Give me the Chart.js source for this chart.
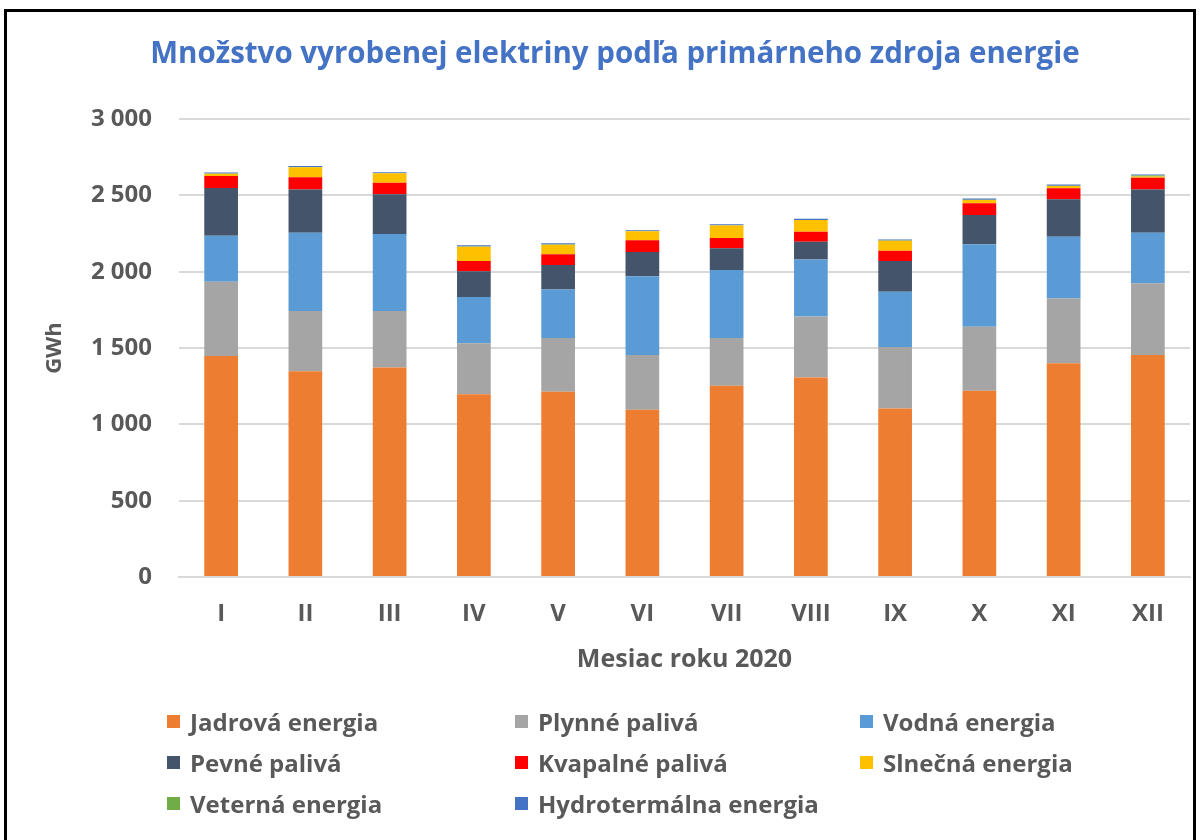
<html lang="sk">
<head>
<meta charset="UTF-8">
<title>Množstvo vyrobenej elektriny</title>
<script src="https://cdn.jsdelivr.net/npm/chart.js"></script>
<style>
    body {
        margin: 0;
        background: #fff;
        font-family: 'Open Sans', sans-serif;
    }
    .wrap {
        position: relative;
        width: 1202px;
        height: 840px;
    }
    .frame {
        position: absolute;
        left: 4px;
        top: 9px;
        width: 1192px;
        height: 840px;
        border: 3px solid #000;
        border-bottom: none;
        box-sizing: border-box;
        pointer-events: none;
    }
    .legend {
        position: absolute;
        left: 167px;
        top: 701px;
        display: grid;
        grid-template-columns: 348px 345px 300px;
        grid-auto-rows: 41px;
        color: #595959;
        font-size: 24px;
        font-weight: bold;
    }
    .legend div {
        display: flex;
        align-items: center;
    }
    .legend span.box {
        width: 13px;
        height: 13px;
        margin-right: 10px;
        flex: none;
    }
</style>
</head>
<body>
<div class="wrap">
    <canvas id="chart" width="1202" height="840"></canvas>
    <div class="frame"></div>
    <div class="legend" id="legend"></div>
</div>
<script>
const months = ['I', 'II', 'III', 'IV', 'V', 'VI', 'VII', 'VIII', 'IX', 'X', 'XI', 'XII'];

// GWh per month
const jadrova   = [1447, 1347, 1373, 1197, 1214, 1096, 1253, 1306, 1103, 1220, 1400, 1454];
const plynne    = [487, 395, 369, 334, 351, 358, 312, 401, 404, 420, 425, 470];
const vodna     = [302, 513, 505, 303, 319, 516, 446, 372, 362, 539, 404, 331];
const pevne     = [312, 284, 260, 168, 160, 159, 142, 117, 201, 192, 245, 284];
const kvapalne  = [79, 79, 76, 68, 70, 76, 67, 66, 67, 77, 72, 76];
const slnecna   = [15, 66, 61, 94, 63, 59, 83, 76, 66, 21, 15, 8];
const veterna   = [1, 1, 1, 1, 1, 3, 1, 1, 1, 2, 2, 7];
const hydroterm = [6, 7, 7, 8, 8, 5, 7, 7, 7, 8, 8, 6];

const series = [
    { label: 'Jadrová energia', data: jadrova, color: '#ED7D31' },
    { label: 'Plynné palivá', data: plynne, color: '#A5A5A5' },
    { label: 'Vodná energia', data: vodna, color: '#5B9BD5' },
    { label: 'Pevné palivá', data: pevne, color: '#44546A' },
    { label: 'Kvapalné palivá', data: kvapalne, color: '#FF0000' },
    { label: 'Slnečná energia', data: slnecna, color: '#FFC000' },
    { label: 'Veterná energia', data: veterna, color: '#70AD47' },
    { label: 'Hydrotermálna energia', data: hydroterm, color: '#4472C4' }
];

const grey = '#595959';
const font = 'Open Sans';

new Chart(document.getElementById('chart'), {
    type: 'bar',
    data: {
        labels: months,
        datasets: series.map(s => ({
            label: s.label,
            data: s.data,
            backgroundColor: s.color,
            categoryPercentage: 0.4,
            barPercentage: 1
        }))
    },
    options: {
        responsive: false,
        animation: false,
        // left padding is wide so the title centres over the plot like in the original
        layout: { padding: { left: 40, right: 12, top: 0, bottom: 155 } },
        plugins: {
            legend: { display: false },
            tooltip: { enabled: false },
            title: {
                display: true,
                text: 'Množstvo vyrobenej elektriny podľa primárneho zdroja energie',
                color: '#4472C4',
                font: { family: font, size: 29.5, weight: 'bold', lineHeight: 1.2 },
                padding: { top: 37, bottom: 46.6 }
            }
        },
        scales: {
            x: {
                stacked: true,
                grid: { display: false, drawTicks: false },
                border: { color: '#D9D9D9', width: 2 },
                ticks: { color: grey, font: { family: font, size: 24, weight: 'bold' }, padding: 23 },
                title: {
                    display: true,
                    text: 'Mesiac roku 2020',
                    color: grey,
                    font: { family: font, size: 25, weight: 'bold' },
                    padding: { top: 0, bottom: 10 }
                },
                afterFit: s => { s.height = 108; }
            },
            y: {
                stacked: true,
                min: 0,
                max: 3000,
                ticks: {
                    stepSize: 500,
                    color: grey,
                    font: { family: font, size: 24, weight: 'bold' },
                    padding: 27,
                    callback: v => v.toLocaleString('fr-FR').replace(/\s/g, ' ')
                },
                grid: { color: '#D9D9D9', lineWidth: 2, drawTicks: false },
                border: { display: false },
                title: {
                    display: true,
                    text: 'GWh',
                    color: grey,
                    font: { family: font, size: 22, weight: 'bold' },
                    padding: { top: 2, bottom: 0 }
                },
                afterFit: s => { s.width = 139; }
            }
        }
    }
});

// legend in three columns like the original
const legend = document.getElementById('legend');
series.forEach(s => {
    const item = document.createElement('div');
    item.innerHTML = '<span class="box" style="background:' + s.color + '"></span>' + s.label;
    legend.appendChild(item);
});
</script>
</body>
</html>
